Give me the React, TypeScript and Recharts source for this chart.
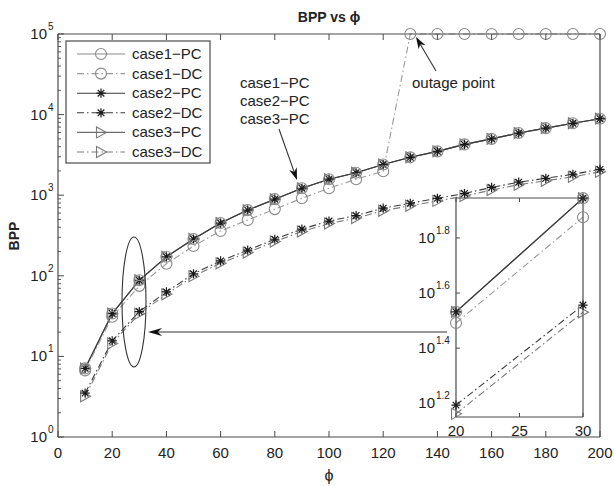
import React from "react";
import { LineChart, Line, XAxis, YAxis } from "recharts";

// ---------- data ----------
const phi = [10, 20, 30, 40, 50, 60, 70, 80, 90, 100, 110, 120, 130, 140, 150, 160, 170, 180, 190, 200];
const case1PC = [7.1, 34, 88, 172, 286, 451, 653, 893, 1220, 1580, 1900, 2400, 2950, 3500, 4270, 5000, 5900, 6800, 7800, 8900];
const case2PC = [7.1, 34, 88, 172, 286, 451, 653, 893, 1220, 1580, 1900, 2400, 2950, 3500, 4270, 5000, 5900, 6800, 7800, 8900];
const case3PC = [7.1, 34, 88, 172, 286, 451, 653, 893, 1220, 1580, 1900, 2400, 2950, 3500, 4270, 5000, 5900, 6800, 7800, 8900];
const case1DC = [6.7, 31, 75, 141, 234, 360, 492, 672, 915, 1220, 1580, 1980, 100000, 100000, 100000, 100000, 100000, 100000, 100000, 100000];
const case2DC = [3.5, 15.6, 36, 63, 106, 153, 208, 284, 380, 478, 560, 690, 795, 915, 1050, 1250, 1450, 1620, 1820, 2090];
const case3DC = [3.2, 14.5, 33.9, 59, 99, 143, 194, 266, 354, 445, 520, 642, 740, 850, 975, 1160, 1350, 1510, 1690, 1950];

const xTicks = [0, 20, 40, 60, 80, 100, 120, 140, 160, 180, 200];
const insetXTicks = [20, 25, 30];
const insetYExps = [1.2, 1.4, 1.6, 1.8];

const seriesNames = ["case1\u2212PC", "case1\u2212DC", "case2\u2212PC", "case2\u2212DC", "case3\u2212PC", "case3\u2212DC"];
const seriesKeys = ["c1pc", "c1dc", "c2pc", "c2dc", "c3pc", "c3dc"];
const seriesValues = [case1PC, case1DC, case2PC, case2DC, case3PC, case3DC];

// ---------- styles ----------
const FONT = "'Liberation Sans', Arial, Helvetica, sans-serif";
const AXIS = "#4a4a4a";
const TEXT = "#222";
const DASHDOT = "7 3 1.5 3";
const seriesStyle: Record<string, { color: string; dash?: string; marker: string; mcolor: string }> = {
  c1pc: { color: "#8a8a8a", marker: "circle", mcolor: "#8a8a8a" },
  c1dc: { color: "#9a9a9a", dash: DASHDOT, marker: "circle", mcolor: "#8a8a8a" },
  c2pc: { color: "#3a3a3a", marker: "star", mcolor: "#1a1a1a" },
  c2dc: { color: "#3a3a3a", dash: DASHDOT, marker: "star", mcolor: "#1a1a1a" },
  c3pc: { color: "#6e6e6e", marker: "tri", mcolor: "#7a7a7a" },
  c3dc: { color: "#7a7a7a", dash: DASHDOT, marker: "tri", mcolor: "#7a7a7a" },
};
const drawOrder = ["c1pc", "c3pc", "c2pc", "c1dc", "c3dc", "c2dc"];

const data = phi.map((p, i) => {
  const row: Record<string, number> = { phi: p };
  seriesKeys.forEach((k, j) => (row[k] = seriesValues[j][i]));
  return row;
});
const insetData = data.filter((r) => r.phi >= 20 && r.phi <= 30);

const minorTicks: number[] = [];
for (let d = 0; d < 5; d++) for (let m = 1; m <= 9; m++) minorTicks.push(m * Math.pow(10, d));
minorTicks.push(100000);

// main plot geometry
const PL = 58, PR = 600, PT = 34, PB = 437;
// inset geometry (relative to inset svg)
const IOX = 400, IOY = 180, IW = 200, IH = 265;
const IL = 56, IR = 183, IT = 18, IB = 237;

function Marker({ type, cx, cy, color }: { type: string; cx: number; cy: number; color: string }) {
  if (cx == null || cy == null || isNaN(cx) || isNaN(cy)) return <g />;
  if (type === "circle")
    return <circle cx={cx} cy={cy} r={5.5} fill="none" stroke={color} strokeWidth={1.1} />;
  if (type === "star") {
    const a = 4.6, b = 3.3;
    return (
      <path
        d={`M${cx - a},${cy}L${cx + a},${cy}M${cx},${cy - a}L${cx},${cy + a}M${cx - b},${cy - b}L${cx + b},${cy + b}M${cx - b},${cy + b}L${cx + b},${cy - b}`}
        stroke={color}
        strokeWidth={1.2}
        fill="none"
      />
    );
  }
  return (
    <polygon
      points={`${cx - 4.5},${cy - 5.5} ${cx + 5.5},${cy} ${cx - 4.5},${cy + 5.5}`}
      fill="none"
      stroke={color}
      strokeWidth={1.1}
    />
  );
}

const makeDot = (k: string) => (props: any) => (
  <g key={`${k}-${props.index}`}>
    <Marker type={seriesStyle[k].marker} cx={props.cx} cy={props.cy} color={seriesStyle[k].mcolor} />
  </g>
);

// ----- main ticks -----
const BottomTick = (props: any) => {
  const { x, payload } = props;
  return (
    <g>
      <line x1={x} x2={x} y1={PB} y2={PB - 6} stroke={AXIS} strokeWidth={1} />
      <text x={x} y={458} textAnchor="middle" fontSize={15} fontFamily={FONT} fill={TEXT}>
        {payload.value}
      </text>
    </g>
  );
};
const TopTick = (props: any) => {
  const { x } = props;
  return <line x1={x} x2={x} y1={PT} y2={PT + 6} stroke={AXIS} strokeWidth={1} />;
};
const isDecade = (v: number) => Math.abs(Math.log10(v) - Math.round(Math.log10(v))) < 1e-9;
const LeftTick = (props: any) => {
  const { y, payload } = props;
  const v = payload.value;
  if (isDecade(v)) {
    const e = Math.round(Math.log10(v));
    return (
      <g>
        <line x1={PL} x2={PL + 6} y1={y} y2={y} stroke={AXIS} strokeWidth={1} />
        <text x={47} y={y + 5} textAnchor="end" fontSize={15} fontFamily={FONT} fill={TEXT}>
          10
        </text>
        <text x={48} y={y - 4} fontSize={10} fontFamily={FONT} fill={TEXT}>
          {e}
        </text>
      </g>
    );
  }
  return <line x1={PL} x2={PL + 3} y1={y} y2={y} stroke={AXIS} strokeWidth={0.9} />;
};
const RightTick = (props: any) => {
  const { y, payload } = props;
  const len = isDecade(payload.value) ? 6 : 3;
  return <line x1={PR} x2={PR - len} y1={y} y2={y} stroke={AXIS} strokeWidth={0.9} />;
};

// ----- inset ticks -----
const IBottomTick = (props: any) => {
  const { x, payload } = props;
  return (
    <g>
      <line x1={x} x2={x} y1={IB} y2={IB - 4} stroke={AXIS} strokeWidth={1} />
      <text x={x} y={256} textAnchor="middle" fontSize={15} fontFamily={FONT} fill={TEXT}>
        {payload.value}
      </text>
    </g>
  );
};
const ITopTick = (props: any) => {
  const { x } = props;
  return <line x1={x} x2={x} y1={IT} y2={IT + 4} stroke={AXIS} strokeWidth={1} />;
};
const ILeftTick = (props: any) => {
  const { y, payload } = props;
  const e = Math.log10(payload.value).toFixed(1);
  return (
    <g>
      <line x1={IL} x2={IL + 4} y1={y} y2={y} stroke={AXIS} strokeWidth={1} />
      <text x={35} y={y + 5} textAnchor="end" fontSize={15} fontFamily={FONT} fill={TEXT}>
        10
      </text>
      <text x={36} y={y - 4} fontSize={10} fontFamily={FONT} fill={TEXT}>
        {e}
      </text>
    </g>
  );
};
const IRightTick = (props: any) => {
  const { y } = props;
  return <line x1={IR} x2={IR - 4} y1={y} y2={y} stroke={AXIS} strokeWidth={1} />;
};

function Arrow({ x1, y1, x2, y2, len = 12, hw = 4 }: any) {
  const dx = x2 - x1, dy = y2 - y1;
  const L = Math.hypot(dx, dy);
  const ux = dx / L, uy = dy / L;
  const bx = x2 - ux * len, by = y2 - uy * len;
  const px = -uy * hw, py = ux * hw;
  const mx = x2 - ux * len * 0.7, my = y2 - uy * len * 0.7;
  return (
    <g>
      <line x1={x1} y1={y1} x2={mx} y2={my} stroke="#333" strokeWidth={1.1} />
      <polygon points={`${x2},${y2} ${bx + px},${by + py} ${mx},${my} ${bx - px},${by - py}`} fill="#111" />
    </g>
  );
}

function renderLines(prefix: string) {
  return drawOrder.map((k) => (
    <Line
      key={prefix + k}
      xAxisId="b"
      yAxisId="l"
      dataKey={k}
      name={seriesNames[seriesKeys.indexOf(k)]}
      stroke={seriesStyle[k].color}
      strokeWidth={1.1}
      strokeDasharray={seriesStyle[k].dash}
      dot={makeDot(k)}
      activeDot={false}
      isAnimationActive={false}
      type="linear"
    />
  ));
}

const axisLineStyle = { stroke: AXIS, strokeWidth: 1.2 };

export default function App() {
  const lo = Math.pow(10, 1.15), hi = Math.pow(10, 1.945);
  const insetTicksY = insetYExps.map((e) => Math.pow(10, e));
  return (
    <div style={{ position: "absolute", left: 0, top: 0, width: 614, height: 486, background: "#fff", fontFamily: FONT }}>
      <div style={{ position: "absolute", left: 0, top: 0 }}>
        <LineChart width={614} height={486} data={data} margin={{ top: PT - 1, right: 614 - PR - 1, bottom: 19, left: 0 }}>
          <XAxis xAxisId="b" dataKey="phi" type="number" domain={[0, 200]} ticks={xTicks} height={30}
            tickSize={0} tick={BottomTick} axisLine={axisLineStyle} tickLine={false} interval={0} />
          <XAxis xAxisId="t" orientation="top" dataKey="phi" type="number" domain={[0, 200]} ticks={xTicks} height={1}
            tickSize={0} tick={TopTick} axisLine={axisLineStyle} tickLine={false} interval={0} />
          <YAxis yAxisId="l" type="number" scale="log" domain={[1, 100000]} ticks={minorTicks} width={PL}
            tickSize={0} tick={LeftTick} axisLine={axisLineStyle} tickLine={false} interval={0} />
          <YAxis yAxisId="r" orientation="right" type="number" scale="log" domain={[1, 100000]} ticks={minorTicks} width={1}
            tickSize={0} tick={RightTick} axisLine={axisLineStyle} tickLine={false} interval={0} />
          {renderLines("m")}
        </LineChart>
      </div>

      <div style={{ position: "absolute", left: IOX, top: IOY }}>
        <LineChart width={IW} height={IH} data={insetData} margin={{ top: IT - 1, right: IW - IR - 1, bottom: 0, left: 0 }}>
          <XAxis xAxisId="b" dataKey="phi" type="number" domain={[20, 30]} ticks={insetXTicks} height={IH - IB}
            tickSize={0} tick={IBottomTick} axisLine={axisLineStyle} tickLine={false} interval={0} />
          <XAxis xAxisId="t" orientation="top" dataKey="phi" type="number" domain={[20, 30]} ticks={insetXTicks} height={1}
            tickSize={0} tick={ITopTick} axisLine={axisLineStyle} tickLine={false} interval={0} />
          <YAxis yAxisId="l" type="number" scale="log" domain={[lo, hi]} ticks={insetTicksY} width={IL}
            tickSize={0} tick={ILeftTick} axisLine={axisLineStyle} tickLine={false} interval={0} />
          <YAxis yAxisId="r" orientation="right" type="number" scale="log" domain={[lo, hi]} ticks={insetTicksY} width={1}
            tickSize={0} tick={IRightTick} axisLine={axisLineStyle} tickLine={false} interval={0} />
          {renderLines("i")}
        </LineChart>
      </div>

      <svg width={614} height={486} style={{ position: "absolute", left: 0, top: 0, pointerEvents: "none" }}>
        <text x={329} y={22} textAnchor="middle" fontSize={14} fontWeight="bold" fontFamily={FONT} fill={TEXT}>
          BPP vs {"\u03d5"}
        </text>
        <text x={329} y={481} textAnchor="middle" fontSize={16} fontFamily={FONT} fill={TEXT}>
          {"\u03d5"}
        </text>
        <text transform="translate(19,236) rotate(-90)" textAnchor="middle" fontSize={14} fontWeight="bold" fontFamily={FONT} fill={TEXT}>
          BPP
        </text>

        {/* legend */}
        <rect x={66} y={41} width={144} height={122} fill="#fff" stroke={AXIS} strokeWidth={1.2} />
        {seriesKeys.map((k, i) => {
          const y = 54 + i * 19.6;
          const st = seriesStyle[k];
          return (
            <g key={k}>
              <line x1={77} x2={125} y1={y} y2={y} stroke={st.color} strokeWidth={1.1} strokeDasharray={st.dash} />
              <Marker type={st.marker} cx={101} cy={y} color={st.mcolor} />
              <text x={132} y={y + 5} fontSize={15} fontFamily={FONT} fill={TEXT}>
                {seriesNames[i]}
              </text>
            </g>
          );
        })}

        {/* annotations */}
        <text x={240} y={88} fontSize={15} fontFamily={FONT} fill={TEXT}>case1{"\u2212"}PC</text>
        <text x={240} y={106} fontSize={15} fontFamily={FONT} fill={TEXT}>case2{"\u2212"}PC</text>
        <text x={240} y={124} fontSize={15} fontFamily={FONT} fill={TEXT}>case3{"\u2212"}PC</text>
        <Arrow x1={279} y1={129} x2={297} y2={180} />
        <text x={412} y={88} fontSize={15} fontFamily={FONT} fill={TEXT}>outage point</text>
        <Arrow x1={436} y1={71} x2={416} y2={37} />
        <ellipse cx={134} cy={302} rx={12} ry={65} fill="none" stroke="#333" strokeWidth={1.1} />
        <Arrow x1={447} y1={332} x2={148} y2={332} len={14} hw={4} />
      </svg>
    </div>
  );
}
